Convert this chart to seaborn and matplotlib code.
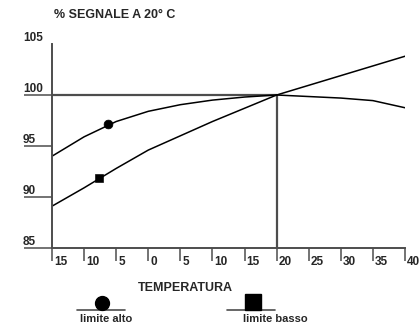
import matplotlib
matplotlib.use("Agg")
import matplotlib.pyplot as plt
from matplotlib.lines import Line2D
import matplotlib.transforms as mtransforms
import seaborn as sns

# values
temps = [-15, -10, -5, 0, 5, 10, 15, 20, 25, 30, 35, 40]
limite_alto = [94.0, 95.9, 97.4, 98.4, 99.05, 99.5, 99.8, 100.0, 99.85, 99.7, 99.45, 98.75]
limite_basso = [89.1, 90.9, 92.8, 94.6, 96.0, 97.4, 98.7, 100.0, 100.95, 101.9, 102.85, 103.8]
alto_point_x = [-6.3]
alto_point_y = [97.15]
basso_point_x = [-7.7]
basso_point_y = [91.9]
x_tick_labels = ["15", "10", "5", "0", "5", "10", "15", "20", "25", "30", "35", "40"]
y_ticks = [85, 90, 95, 100, 105]
ref_temp = 20
ref_level = 100

sns.set_style("white")
plt.rcParams['font.family'] = ['Liberation Sans', 'DejaVu Sans']
plt.rcParams['font.weight'] = 'bold'

grey = '#4d4d4d'
fig = plt.figure(figsize=(4.19, 3.25), dpi=100)
ax = fig.add_axes([52 / 419, 1 - 248 / 325, 353 / 419, 204 / 325])

# reference cross at 20 C / 100 %
ax.hlines(ref_level, -15, ref_temp, color=grey, lw=1.6)
ax.vlines(ref_temp, 85, ref_level, color=grey, lw=1.6)

sns.lineplot(x=temps, y=limite_alto, color='black', lw=1.1, ax=ax)
sns.lineplot(x=temps, y=limite_basso, color='black', lw=1.1, ax=ax)
sns.scatterplot(x=alto_point_x, y=alto_point_y, marker='o', s=40, color='black',
                edgecolor='black', ax=ax, zorder=5)
sns.scatterplot(x=basso_point_x, y=basso_point_y, marker='s', s=30, color='black',
                edgecolor='black', ax=ax, zorder=5)

ax.set_xlim(-15, 40)
ax.set_ylim(85, 105)
for side in ['top', 'right']:
    ax.spines[side].set_visible(False)
for side in ['left', 'bottom']:
    ax.spines[side].set_color(grey)
    ax.spines[side].set_linewidth(1.4)

ax.set_xticks(temps)
ax.set_xticklabels([])
ax.set_yticks(y_ticks[:-1])
ax.set_yticklabels([])
ax.tick_params(axis='x', direction='out', length=9, width=1.1, color=grey, bottom=True)
ax.tick_params(axis='y', direction='out', length=20, width=1.1, color=grey, left=True)

# tick labels: x to the right of each tick, y sitting on the tick line
xtr = mtransforms.offset_copy(ax.get_xaxis_transform(), fig=fig, x=2, y=-14, units='dots')
for t, lab in zip(temps, x_tick_labels):
    ax.text(t, 0, lab, transform=xtr, ha='left', va='center', fontsize=8.5,
            fontweight='bold', clip_on=False)
ytr = mtransforms.offset_copy(ax.get_yaxis_transform(), fig=fig, x=-29, y=0, units='dots')
for v in y_ticks:
    ax.text(0, v, str(v), transform=ytr, ha='left', va='bottom', fontsize=8.5,
            fontweight='bold', clip_on=False)

ax.set_xlabel('')
ax.set_ylabel('')
fig.text(54 / 419, 1 - 15 / 325, '% SEGNALE A 20° C', ha='left', va='center',
         fontsize=9, fontweight='bold')
fig.text(185 / 419, 1 - 288 / 325, 'TEMPERATURA', ha='center', va='center',
         fontsize=9, fontweight='bold')

# legend drawn by hand below the axis
fig.add_artist(Line2D([77 / 419, 125 / 419], [1 - 310 / 325] * 2, color=grey, lw=1.2,
                      transform=fig.transFigure))
fig.add_artist(Line2D([102 / 419], [1 - 303 / 325], marker='o', ms=10, color='black',
                      transform=fig.transFigure))
fig.text(106 / 419, 1 - 319 / 325, 'limite alto', ha='center', va='center',
         fontsize=8, fontweight='bold')
fig.add_artist(Line2D([227 / 419, 275 / 419], [1 - 310 / 325] * 2, color=grey, lw=1.2,
                      transform=fig.transFigure))
fig.add_artist(Line2D([253 / 419], [1 - 302 / 325], marker='s', ms=11, color='black',
                      transform=fig.transFigure))
fig.text(275 / 419, 1 - 319 / 325, 'limite basso', ha='center', va='center',
         fontsize=8, fontweight='bold')

fig.savefig('out.png', dpi=100)
